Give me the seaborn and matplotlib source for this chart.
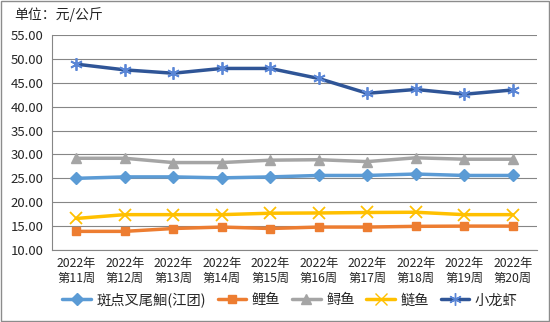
import matplotlib
matplotlib.use("Agg")
import matplotlib.pyplot as plt
import seaborn as sns
import pandas as pd
from matplotlib.lines import Line2D
from matplotlib.patches import Rectangle

weeks = ["2022年\n第11周", "2022年\n第12周", "2022年\n第13周", "2022年\n第14周", "2022年\n第15周",
         "2022年\n第16周", "2022年\n第17周", "2022年\n第18周", "2022年\n第19周", "2022年\n第20周"]
series_names = ["斑点叉尾鮰(江团)", "鲤鱼", "鲟鱼", "鲢鱼", "小龙虾"]
catfish = [25.0, 25.3, 25.3, 25.1, 25.3, 25.6, 25.6, 25.9, 25.6, 25.6]
carp = [13.9, 13.9, 14.5, 14.8, 14.5, 14.8, 14.8, 14.95, 15.0, 15.0]
sturgeon = [29.2, 29.2, 28.3, 28.3, 28.8, 28.9, 28.5, 29.3, 29.0, 29.0]
silver_carp = [16.6, 17.4, 17.4, 17.4, 17.7, 17.75, 17.85, 17.9, 17.4, 17.4]
crayfish = [48.9, 47.7, 47.0, 48.0, 48.0, 45.9, 42.8, 43.6, 42.6, 43.5]
yticks = [10, 15, 20, 25, 30, 35, 40, 45, 50, 55]

colors = ["#5B9BD5", "#ED7D31", "#A5A5A5", "#FFC000", "#2F5597"]
mcolors = ["#5B9BD5", "#ED7D31", "#A5A5A5", "#FFC000", "#5A86D6"]
markers = ["D", "s", "^", "x", (6, 2, 0)]
msizes = [6, 6, 7, 8, 9]

sns.set_theme(style="white")
plt.rcParams["font.family"] = ["Noto Sans CJK SC", "DejaVu Sans"]

rows = []
for name, vals in zip(series_names, [catfish, carp, sturgeon, silver_carp, crayfish]):
    for w, v in zip(weeks, vals):
        rows.append({"week": w, "price": v, "series": name})
df = pd.DataFrame(rows)

fig = plt.figure(figsize=(5.5, 3.22), dpi=100)
ax = fig.add_axes([52 / 550, 1 - 250 / 322, 485 / 550, 215 / 322])

for i, name in enumerate(series_names):
    sub = df[df["series"] == name]
    sns.lineplot(data=sub, x="week", y="price", ax=ax, color=colors[i], lw=2.5,
                 marker=markers[i], markersize=msizes[i], markerfacecolor=mcolors[i],
                 markeredgecolor=mcolors[i], markeredgewidth=1.3 if i >= 3 else 1, zorder=3 + i,
                 legend=False)

ax.set_xlim(-0.5, len(weeks) - 0.5)
ax.set_ylim(10, 55)
ax.set_yticks(yticks)
ax.set_yticklabels([f"{v:.2f}" for v in yticks], fontsize=9.5)
ax.set_xticks(range(len(weeks)))
ax.set_xticklabels(weeks, fontsize=8.8, linespacing=1.2)
ax.set_xticks([i - 0.5 for i in range(len(weeks) + 1)], minor=True)
ax.tick_params(axis="x", which="major", length=0, pad=5)
ax.tick_params(axis="x", which="minor", length=5, color="#868686", width=0.8, direction="out")
ax.tick_params(axis="y", length=4, color="#868686", width=0.8, direction="out", pad=2)
ax.set_xlabel("")
ax.set_ylabel("")
ax.grid(axis="y", color="#868686", lw=0.8)
ax.grid(axis="x", visible=False)
for s in ["top", "right"]:
    ax.spines[s].set_visible(False)
for s in ["left", "bottom"]:
    ax.spines[s].set_color("#868686")
    ax.spines[s].set_linewidth(0.8)

fig.text(14 / 550, 1 - 15 / 322, "单位：元/公斤", fontsize=10, va="center", ha="left")

handles = [Line2D([0], [0], color=colors[i], lw=2.5, marker=markers[i], markersize=msizes[i],
                  markerfacecolor=mcolors[i], markeredgecolor=mcolors[i]) for i in range(5)]
fig.legend(handles, series_names, loc="center", bbox_to_anchor=(290 / 550, 1 - 300 / 322), ncol=5,
           frameon=False, fontsize=10.3, handlelength=2.0, columnspacing=0.8, handletextpad=0.4)

fig.add_artist(Rectangle((0.001, 0.002), 0.997, 0.995, transform=fig.transFigure, fill=False,
                         edgecolor="#8c8c8c", lw=1))

fig.savefig("out.png", dpi=100)
